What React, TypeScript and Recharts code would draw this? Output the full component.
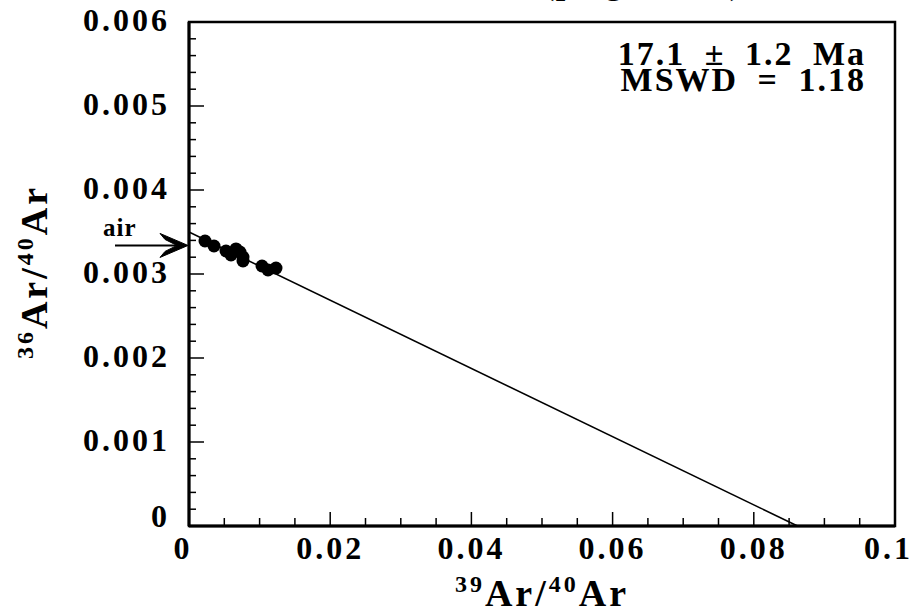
import { ScatterChart, Scatter, XAxis, YAxis, ReferenceArea, ReferenceDot, Label } from "recharts"

const FONT = "'Liberation Serif', 'Times New Roman', serif"

// axis ticks
const xMajorTicks = [0, 0.02, 0.04, 0.06, 0.08, 0.1]
const xTickLabels = ["0", "0.02", "0.04", "0.06", "0.08", "0.1"]
const yMajorTicks = [0, 0.001, 0.002, 0.003, 0.004, 0.005, 0.006]
const yTickLabels = ["0", "0.001", "0.002", "0.003", "0.004", "0.005", "0.006"]
const X_MINOR_STEP = 0.005
const Y_MINOR_STEP = 0.0002

// measured steps (39Ar/40Ar, 36Ar/40Ar)
const ar39 = [0.00227, 0.00354, 0.00524, 0.00595, 0.00666, 0.00722, 0.00765, 0.00765, 0.01034, 0.01119, 0.01232]
const ar36 = [0.003393, 0.003333, 0.003274, 0.003226, 0.003298, 0.003262, 0.003202, 0.003155, 0.003095, 0.003048, 0.003071]

// isochron fit: intercepts on both axes
const fitX = [0, 0.0862]
const fitY = [0.0035, 0]

const AIR_RATIO = 0.00334

const points = ar39.map((x, i) => ({ x, y: ar36[i] }))
const fitLine = fitX.map((x, i) => ({ x, y: fitY[i] }))

const minorTicks = (max: number, step: number) =>
  Array.from({ length: Math.round(max / step) + 1 }, (_, i) => +(i * step).toFixed(6))

const xTicks = minorTicks(0.1, X_MINOR_STEP)
const yTicks = minorTicks(0.006, Y_MINOR_STEP)

const majorIndex = (list: number[], v: number) => list.findIndex((m) => Math.abs(m - v) < 1e-9)

const XTick = ({ x, y, payload }: any) => {
  const i = majorIndex(xMajorTicks, payload.value)
  const last = i === xMajorTicks.length - 1
  return (
    <g>
      <line x1={x} x2={x} y1={y} y2={y - (i >= 0 ? 14 : 8)} stroke="#000" strokeWidth={1.5} />
      {i >= 0 && (
        <text
          x={i === 0 ? x - 6 : last ? x + 18 : x}
          y={y + 33}
          textAnchor={last ? "end" : "middle"}
          fontFamily={FONT}
          fontWeight="bold"
          fontSize={32}
          letterSpacing={3}
          fill="#000"
        >
          {xTickLabels[i]}
        </text>
      )}
    </g>
  )
}

const YTick = ({ x, y, payload }: any) => {
  const i = majorIndex(yMajorTicks, payload.value)
  return (
    <g>
      <line x1={x} x2={x + (i >= 0 ? 15 : 7)} y1={y} y2={y} stroke="#000" strokeWidth={1.5} />
      {i >= 0 && (
        <text x={x - 19} y={i === 0 ? y + 1 : y + 9} textAnchor="end" fontFamily={FONT} fontWeight="bold" fontSize={32} letterSpacing={3} fill="#000">
          {yTickLabels[i]}
        </text>
      )}
    </g>
  )
}

const XTitle = ({ viewBox }: any) => {
  const cx = viewBox.x + viewBox.width / 2
  return (
    <text x={cx} y={viewBox.y + 80} textAnchor="middle" fontFamily={FONT} fontWeight="bold" fontSize={38} letterSpacing={3} fill="#000">
      <tspan fontSize={24} dy={-14}>39</tspan>
      <tspan dy={14}>Ar/</tspan>
      <tspan fontSize={24} dy={-14}>40</tspan>
      <tspan dy={14}>Ar</tspan>
    </text>
  )
}

const YTitle = ({ viewBox }: any) => {
  const cy = viewBox.y + viewBox.height / 2 - 2
  const bx = 47
  return (
    <text x={bx} y={cy} transform={`rotate(-90, ${bx}, ${cy})`} textAnchor="middle" fontFamily={FONT} fontWeight="bold" fontSize={38} letterSpacing={3} fill="#000">
      <tspan fontSize={24} dy={-14}>36</tspan>
      <tspan dy={14}>Ar/</tspan>
      <tspan fontSize={24} dy={-14}>40</tspan>
      <tspan dy={14}>Ar</tspan>
    </text>
  )
}

const AirArrow = ({ cx, cy }: any) => (
  <g>
    <line x1={cx - 74} x2={cx - 3} y1={cy} y2={cy} stroke="#000" strokeWidth={2} />
    <path
      d={`M ${cx - 1} ${cy} L ${cx - 29} ${cy - 12} L ${cx - 24} ${cy - 6} L ${cx - 12} ${cy} L ${cx - 24} ${cy + 6} L ${cx - 29} ${cy + 12} Z`}
      fill="#000"
      stroke="#000"
      strokeWidth={1}
    />
    <text x={cx - 86} y={cy - 9} fontFamily={FONT} fontWeight="bold" fontSize={25} letterSpacing={1} fill="#000">
      air
    </text>
  </g>
)

export default function App() {
  return (
    <div style={{ position: "absolute", left: 0, top: 0, width: 913, height: 615, background: "#fff" }}>
      <ScatterChart width={913} height={615} margin={{ top: 22, right: 18, bottom: 0, left: 0 }}>
        <XAxis
          type="number"
          dataKey="x"
          domain={[0, 0.1]}
          ticks={xTicks}
          interval={0}
          height={89}
          tickSize={0}
          tickMargin={0}
          tickLine={false}
          axisLine={{ stroke: "#000", strokeWidth: 3 }}
          tick={<XTick />}
        >
          <Label content={<XTitle />} />
        </XAxis>
        <YAxis
          type="number"
          dataKey="y"
          domain={[0, 0.006]}
          ticks={yTicks}
          interval={0}
          width={189}
          tickSize={0}
          tickMargin={0}
          tickLine={false}
          axisLine={{ stroke: "#000", strokeWidth: 3 }}
          tick={<YTick />}
        >
          <Label content={<YTitle />} />
        </YAxis>
        <ReferenceArea x1={0} x2={0.1} y1={0} y2={0.006} fill="none" stroke="#000" strokeWidth={2.5} />
        <Scatter
          data={fitLine}
          line={{ stroke: "#000", strokeWidth: 1.5 }}
          shape={() => <g />}
          isAnimationActive={false}
        />
        <Scatter
          data={points}
          shape={(p: any) => <circle cx={p.cx} cy={p.cy} r={6.5} fill="#000" />}
          isAnimationActive={false}
        />
        <ReferenceDot x={0} y={AIR_RATIO} shape={<AirArrow />} />
      </ScatterChart>
      <svg width={913} height={615} style={{ position: "absolute", left: 0, top: 0, pointerEvents: "none" }}>
        <text x={543} y={-6} textLength={198} lengthAdjust="spacing" fontFamily={FONT} fontWeight="bold" fontSize={34} fill="#000">
          (plagioclase)
        </text>
        <text textAnchor="end" fontFamily={FONT} fontWeight="bold" fontSize={34} letterSpacing={2} wordSpacing={9} fill="#000">
          <tspan x={866} y={65}>17.1 ± 1.2 Ma</tspan>
          <tspan x={866} y={91}>MSWD = 1.18</tspan>
        </text>
      </svg>
    </div>
  )
}
